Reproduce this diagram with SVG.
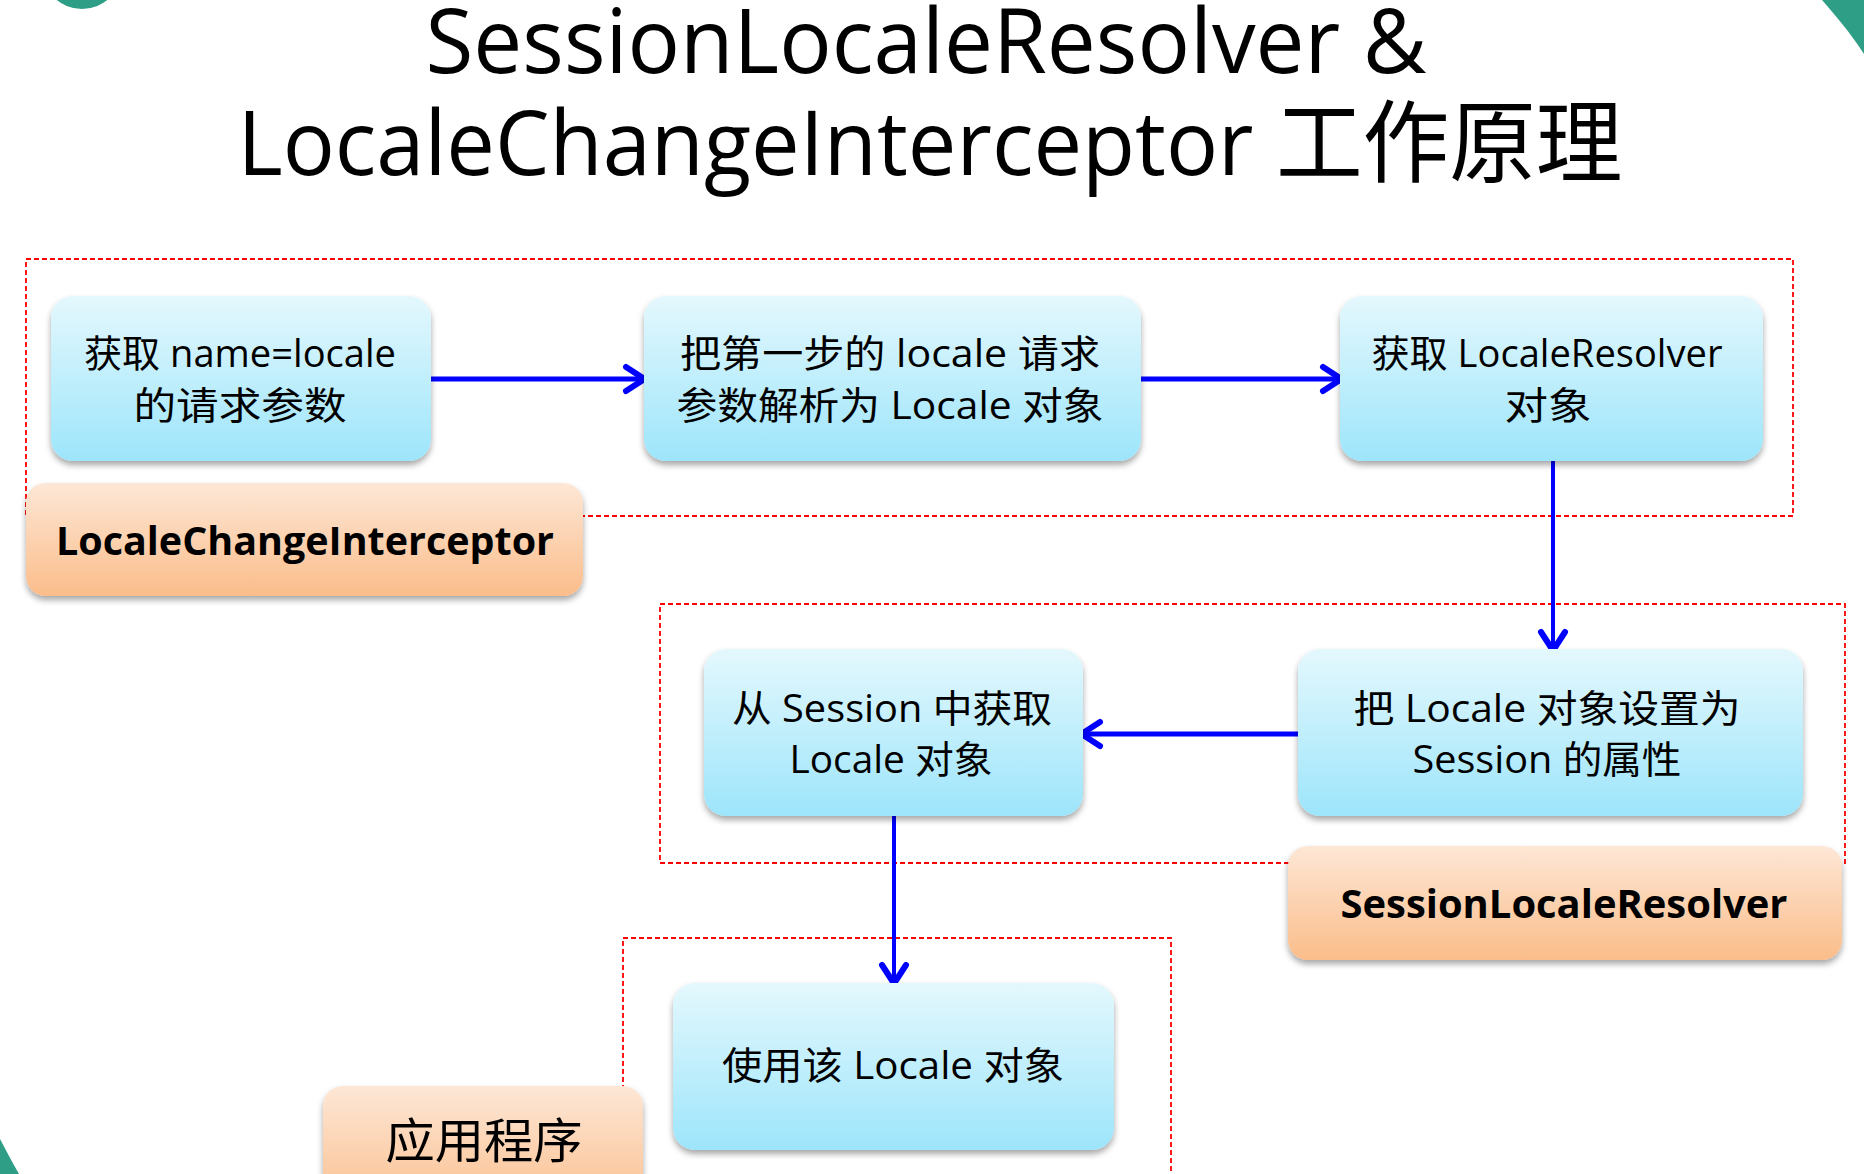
<svg xmlns="http://www.w3.org/2000/svg" width="1864" height="1174" viewBox="0 0 1864 1174">
  <defs>
    <linearGradient id="gBlue" x1="0" y1="0" x2="0" y2="1">
      <stop offset="0" stop-color="#e4f8fd"/>
      <stop offset="1" stop-color="#9de5fb"/>
    </linearGradient>
    <linearGradient id="gOrange" x1="0" y1="0" x2="0" y2="1">
      <stop offset="0" stop-color="#fde7d6"/>
      <stop offset="1" stop-color="#fbbd8a"/>
    </linearGradient>
    <filter id="shadow" x="-10%" y="-10%" width="120%" height="135%">
      <feDropShadow dx="0" dy="4" stdDeviation="3" flood-color="#000" flood-opacity="0.35"/>
    </filter>
    <marker id="arrow" viewBox="-26 -16 32 32" refX="-3" refY="0" markerWidth="32" markerHeight="32" markerUnits="userSpaceOnUse" orient="auto" overflow="visible">
      <path d="M-20,-12 L-1.5,0 L-20,12" fill="none" stroke="#0000ff" stroke-width="6" stroke-linecap="round" stroke-linejoin="round"/>
    </marker>
    <style>
      .title { font-family: "Open Sans", "Noto Sans CJK SC", sans-serif; font-size: 90px; fill: #000; }
      .box { fill: url(#gBlue); filter: url(#shadow); }
      .lbl { fill: url(#gOrange); filter: url(#shadow); }
      .t { font-family: "Open Sans", "Noto Sans CJK SC", sans-serif; font-size: 38px; fill: #000; text-anchor: middle; }
      .tb { font-family: "Open Sans", "Noto Sans CJK SC", sans-serif; font-size: 40px; font-weight: bold; fill: #000; text-anchor: middle; }
      .tc { font-family: "Noto Sans CJK SC", sans-serif; font-size: 48px; fill: #000; text-anchor: middle; }
      .dash { fill: none; stroke: #ff0000; stroke-width: 1.8; stroke-dasharray: 5 3; }
      .conn { fill: none; stroke: #0000ff; marker-end: url(#arrow); }
      .deco { fill: #2e9f86; }
    </style>
  </defs>

  <rect width="1864" height="1174" fill="#ffffff"/>

  <g id="decoration">
    <circle class="deco" cx="82" cy="-31" r="40"/>
    <path class="deco" d="M1822,0 C1835,15 1850,32 1864,54 L1864,0 Z"/>
    <path class="deco" d="M0,1139 C6,1150 12,1162 19,1174 L0,1174 Z"/>
  </g>

  <g id="title">
    <text class="title" x="926" y="73" text-anchor="middle" textLength="1001" lengthAdjust="spacingAndGlyphs">SessionLocaleResolver &amp;</text>
    <text class="title" x="930" y="175" text-anchor="middle" textLength="1385" lengthAdjust="spacingAndGlyphs">LocaleChangeInterceptor 工作原理</text>
  </g>

  <g id="regions">
    <rect id="region-interceptor" class="dash" x="26" y="259" width="1767" height="257"/>
    <rect id="region-resolver" class="dash" x="660" y="604" width="1185" height="259"/>
    <rect id="region-app" class="dash" x="623" y="938" width="548" height="300"/>
  </g>

  <g id="connectors">
    <path class="conn" stroke-width="5" d="M431,379 L643,379"/>
    <path class="conn" stroke-width="5" d="M1141,379 L1340,379"/>
    <path class="conn" stroke-width="4" d="M1553,461 L1553,649"/>
    <path class="conn" stroke-width="5" d="M1298,734 L1083,734"/>
    <path class="conn" stroke-width="4" d="M894,816 L894,982"/>
  </g>

  <g id="node-get-param">
    <rect class="box" x="51" y="296" width="380" height="165" rx="22"/>
    <text class="t" x="240" y="367" textLength="312" lengthAdjust="spacingAndGlyphs">获取 name=locale</text>
    <text class="t" x="240" y="419" textLength="213" lengthAdjust="spacingAndGlyphs">的请求参数</text>
  </g>

  <g id="node-parse-locale">
    <rect class="box" x="644" y="296" width="497" height="165" rx="22"/>
    <text class="t" x="890" y="367" textLength="420" lengthAdjust="spacingAndGlyphs">把第一步的 locale 请求</text>
    <text class="t" x="890" y="419" textLength="427" lengthAdjust="spacingAndGlyphs">参数解析为 Locale 对象</text>
  </g>

  <g id="node-get-resolver">
    <rect class="box" x="1340" y="296" width="423" height="165" rx="22"/>
    <text class="t" x="1547" y="367" textLength="351" lengthAdjust="spacingAndGlyphs">获取 LocaleResolver</text>
    <text class="t" x="1548" y="419" textLength="87" lengthAdjust="spacingAndGlyphs">对象</text>
  </g>

  <g id="node-set-session">
    <rect class="box" x="1298" y="649" width="505" height="167" rx="22"/>
    <text class="t" x="1547" y="722" textLength="387" lengthAdjust="spacingAndGlyphs">把 Locale 对象设置为</text>
    <text class="t" x="1547" y="773" textLength="269" lengthAdjust="spacingAndGlyphs">Session 的属性</text>
  </g>

  <g id="node-get-from-session">
    <rect class="box" x="704" y="649" width="379" height="167" rx="22"/>
    <text class="t" x="892" y="722" textLength="320" lengthAdjust="spacingAndGlyphs">从 Session 中获取</text>
    <text class="t" x="891" y="773" textLength="203" lengthAdjust="spacingAndGlyphs">Locale 对象</text>
  </g>

  <g id="node-use-locale">
    <rect class="box" x="673" y="983" width="441" height="167" rx="22"/>
    <text class="t" x="893" y="1079" textLength="342" lengthAdjust="spacingAndGlyphs">使用该 Locale 对象</text>
  </g>

  <g id="label-interceptor">
    <rect class="lbl" x="26" y="483" width="557" height="113" rx="20"/>
    <text class="tb" x="305" y="555" textLength="498" lengthAdjust="spacingAndGlyphs">LocaleChangeInterceptor</text>
  </g>

  <g id="label-resolver">
    <rect class="lbl" x="1288" y="846" width="554" height="114" rx="20"/>
    <text class="tb" x="1564" y="918" textLength="447" lengthAdjust="spacingAndGlyphs">SessionLocaleResolver</text>
  </g>

  <g id="label-app">
    <rect class="lbl" x="323" y="1086" width="320" height="130" rx="20"/>
    <text class="tc" x="484" y="1158" textLength="197" lengthAdjust="spacingAndGlyphs">应用程序</text>
  </g>
</svg>
